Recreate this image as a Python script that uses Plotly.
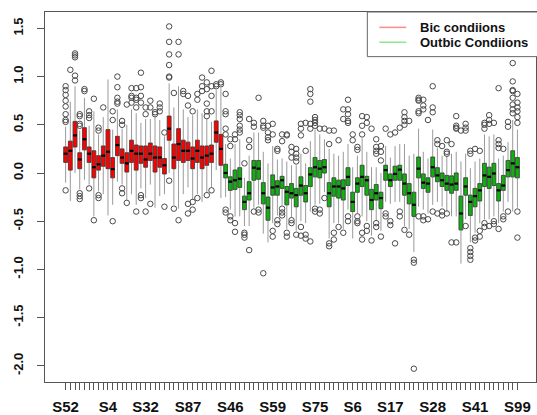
import plotly.graph_objects as go

# ---- per-sample box statistics (97 samples; the first 34 are "Bic") ----
n_bic = 34

q1 = [0.11, 0.03, 0.27, 0.045, 0.24, 0.11, -0.05, 0.03, 0.07, 0.045, -0.05, 0.18, 0.10, 0.01, 0.11, 0.03, 0.10,
      0.06, 0.13, 0.01, 0.06, -0.01, 0.34, 0.045, 0.13, 0.11, 0.13, 0.045, 0.11, 0.045, 0.08, 0.11, 0.32, 0.08,
      -0.05, -0.18, -0.17, -0.15, -0.38, -0.28, -0.075, -0.065, -0.32, -0.49, -0.23, -0.23, -0.16, -0.33, -0.26,
      -0.35, -0.23, -0.30, -0.14, -0.04, -0.05, 0.00, -0.35, -0.24, -0.26, -0.28, -0.13, -0.40, -0.20, -0.14, -0.23, -0.38,
      -0.28, -0.37, -0.075, -0.14, -0.075, -0.075, -0.23, -0.32, -0.45, -0.05, -0.16, -0.20, -0.04, -0.09, -0.14, -0.18,
      -0.21,
      -0.18, -0.59, -0.23, -0.44, -0.35, -0.29, -0.14, -0.16, -0.13, -0.29, -0.18, -0.04, -0.04, -0.05]

med = [0.20, 0.23, 0.39, 0.14, 0.35, 0.20, 0.06, 0.09, 0.18, 0.22, 0.04, 0.29, 0.16, 0.10, 0.23, 0.20, 0.20,
       0.14, 0.20, 0.16, 0.16, 0.08, 0.46, 0.16, 0.30, 0.23, 0.23, 0.15, 0.23, 0.16, 0.18, 0.20, 0.42, 0.25,
       0.00, -0.09, -0.075, -0.06, -0.30, -0.21, 0.055, 0.045, -0.21, -0.36, -0.15, -0.14, -0.075, -0.195, -0.21,
       -0.23, -0.13, -0.21, -0.015, 0.06, 0.045, 0.06, -0.21, -0.14, -0.14, -0.16, -0.04, -0.30, -0.11, -0.04, -0.075, -0.28,
       -0.21, -0.26, 0.03, -0.075, -0.01, 0.035, -0.11, -0.21, -0.33, 0.045, -0.10, -0.11, 0.06, -0.025, -0.075, -0.11,
       -0.12,
       -0.11, -0.42, -0.14, -0.30, -0.24, -0.18, -0.025, -0.04, -0.005, -0.18, -0.13, 0.03, 0.10, 0.06]

q3 = [0.27, 0.33, 0.535, 0.21, 0.47, 0.27, 0.23, 0.18, 0.28, 0.45, 0.16, 0.38, 0.25, 0.21, 0.34, 0.29, 0.28,
      0.28, 0.31, 0.28, 0.27, 0.15, 0.59, 0.30, 0.46, 0.34, 0.32, 0.27, 0.34, 0.28, 0.28, 0.29, 0.54, 0.40,
      0.09, -0.04, 0.03, 0.055, -0.24, -0.09, 0.13, 0.13, -0.10, -0.25, -0.02, -0.08, -0.035, -0.14, -0.11,
      -0.16, -0.04, -0.13, 0.055, 0.16, 0.13, 0.14, -0.10, -0.05, -0.075, -0.07, 0.055, -0.20, -0.05, 0.08, -0.035, -0.17,
      -0.12, -0.20, 0.08, -0.01, 0.07, 0.08, -0.01, -0.11, -0.20, 0.165, -0.01, -0.05, 0.165, 0.055, 0.00, -0.025,
      -0.03,
      0.00, -0.24, -0.05, -0.23, -0.16, -0.11, 0.10, 0.06, 0.10, -0.11, -0.025, 0.13, 0.23, 0.16]

whisk_lo = [-0.10, -0.29, 0.00, -0.17, -0.07, -0.12, -0.45, -0.19, -0.22, -0.44, -0.33, -0.09, -0.12, -0.28, -0.22, -0.33, -0.16,
            -0.26, -0.12, -0.36, -0.24, -0.22, 0.00, -0.33, -0.37, -0.22, -0.15, -0.28, -0.22, -0.30, -0.20, -0.15, 0.03, -0.26,
            -0.25, -0.38, -0.45, -0.45, -0.55, -0.55, -0.36, -0.33, -0.63, -0.72, -0.52, -0.44, -0.33, -0.58, -0.46,
            -0.60, -0.50, -0.52, -0.40, -0.33, -0.32, -0.20, -0.68, -0.52, -0.52, -0.58, -0.38, -0.68, -0.42, -0.45, -0.50, -0.65,
            -0.50, -0.60, -0.30, -0.32, -0.30, -0.30, -0.55, -0.58, -0.82, -0.35, -0.38, -0.42, -0.33, -0.30, -0.35, -0.40,
            -0.45,
            -0.45, -0.94, -0.48, -0.72, -0.62, -0.52, -0.48, -0.48, -0.45, -0.52, -0.40, -0.30, -0.40, -0.36]

whisk_hi = [0.48, 0.74, 0.90, 0.44, 0.78, 0.49, 0.64, 0.40, 0.58, 0.97, 0.45, 0.66, 0.46, 0.50, 0.66, 0.62, 0.52,
            0.56, 0.56, 0.58, 0.55, 0.38, 0.93, 0.68, 0.90, 0.66, 0.58, 0.60, 0.66, 0.62, 0.56, 0.53, 0.86, 0.88,
            0.30, 0.15, 0.30, 0.35, -0.05, 0.18, 0.42, 0.42, 0.22, 0.10, 0.28, 0.14, 0.15, 0.12, 0.08,
            0.08, 0.20, 0.10, 0.33, 0.45, 0.40, 0.35, 0.25, 0.20, 0.18, 0.22, 0.30, 0.06, 0.18, 0.36, 0.22, 0.06,
            0.06, 0.00, 0.28, 0.16, 0.28, 0.30, 0.30, 0.18, 0.20, 0.46, 0.22, 0.15, 0.45, 0.26, 0.18, 0.18,
            0.20,
            0.22, 0.12, 0.20, 0.05, 0.12, 0.15, 0.40, 0.38, 0.40, 0.15, 0.18, 0.32, 0.55, 0.45]

outliers = [
    [0.90, 0.86, 0.81, 0.75, 0.69, 0.61, 0.55, 0.53, -0.18], [1.07], [1.24, 1.22, 1.20, 1.01, 0.96],
    [0.61, 0.59, 0.51, 0.49, -0.21, -0.24, -0.27], [0.87, 0.85], [0.64, 0.60, 0.57, -0.16], [0.77, -0.49],
    [0.47, 0.44, -0.23, -0.26], [0.68], [], [0.64, 0.55, -0.50], [1.00, 0.89, 0.78, 0.74, 0.72],
    [0.54, 0.50, -0.16, -0.21], [0.71, -0.31], [0.88, 0.80, 0.78, 0.73], [0.88, 0.78, 0.76, 0.68, -0.40],
    [1.04, 0.89, 0.80, 0.73, -0.23, -0.26], [0.68, 0.61, -0.40], [0.75, 0.68, -0.32], [0.63, 0.61],
    [0.72, 0.68, 0.64], [0.42, -0.35], [1.52, 1.36, 1.23, 1.12, 1.00, 0.99, -0.08], [0.83, -0.37],
    [1.36, 1.23, -0.49], [0.85, 0.82], [0.80, 0.70, -0.32, -0.42], [0.64, -0.30, -0.38], [0.82, 0.76, -0.26],
    [0.99, 0.90, 0.85], [0.94, 0.87, 0.72, 0.64, 0.59, -0.23], [1.06, 0.90, 0.80, 0.64, -0.18], [0.92, 0.90],
    [0.94, 0.92],
    [0.82, 0.64, 0.61, 0.46, 0.40, -0.38, -0.41], [0.35, 0.28, -0.45, -0.49], [0.40, 0.35, -0.52, -0.61],
    [0.63, 0.60, 0.56, 0.49, 0.45, 0.42], [0.10, -0.62, -0.64, -0.67], [0.56, 0.34, 0.27, -0.80],
    [0.48, 0.52, -0.40], [0.78, -0.38, -0.41], [0.54, 0.49, 0.47, -1.04], [0.49, 0.42, 0.37, 0.34],
    [0.51, 0.40, -0.60, -0.66], [0.25, 0.23, -0.49, -0.53], [0.40, 0.33, -0.37, -0.41, -0.44],
    [0.40, 0.39, -0.62, -0.66], [0.27, 0.22, 0.16, -0.49, -0.52], [0.25, 0.20, 0.16, 0.12, -0.64],
    [0.51, 0.46, 0.39, -0.56, -0.65], [0.52, 0.23, -0.64, -0.68], [0.87, 0.82, 0.74, 0.51, 0.46, -0.71],
    [0.58, 0.55, 0.52, 0.49, -0.37, -0.40], [0.46, -0.38, -0.42], [0.46, -0.26], [0.44, 0.30, -0.76, -0.73],
    [0.44, -0.62, -0.69], [0.34, -0.56], [0.66, 0.56, -0.62], [0.76, 0.66, 0.61, 0.54, 0.52, -0.45, -0.50],
    [0.40, 0.34], [0.27, 0.24, -0.45, -0.50, -0.52], [0.59, 0.49, 0.40, -0.62, -0.69], [0.58, 0.52, -0.55, -0.60],
    [0.46, -0.70], [0.35, 0.27, 0.23, 0.20, -0.52, -0.56], [0.28, 0.22, 0.13, -0.66], [0.46, -0.42, -0.45],
    [0.40, -0.50, -0.54], [0.42, -0.73], [0.47, -0.40, -0.45], [0.63, 0.58, 0.54, 0.50, -0.59], [0.54, -0.64],
    [-0.90, -0.93, -2.03], [0.78, 0.76, 0.75, 0.64, 0.62, -0.45], [0.76, 0.70, 0.66, -0.45, -0.49], [0.55, -0.48],
    [0.90, 0.68, 0.63, -0.40], [0.34, 0.30, -0.42], [0.28, -0.40, -0.44], [0.34, 0.22, 0.20, -0.42],
    [0.30, -0.72], [0.59, 0.49, 0.47, 0.46, -0.72], [0.44], [0.51, 0.47, 0.44, -0.55],
    [0.23, 0.20, -0.78, -0.82, -0.86, -0.90], [0.25, -0.67, -0.70], [0.23, -0.60, -0.66],
    [0.52, 0.50, 0.46, -0.52, -0.56], [0.60, 0.55, 0.51, -0.55], [0.52, -0.50, -0.53],
    [0.88, 0.34, 0.30, 0.26, -0.58], [0.25, -0.45, -0.48], [0.53, 0.48, -0.40],
    [1.14, 0.95, 0.86, 0.85, 0.78, 0.71, 0.66, 0.62], [0.82, 0.73, 0.68, 0.64, 0.58, 0.52, -0.40, -0.67],
]

# sample names shown on the x axis (the rest are skipped for space)
label_pos = [1, 10, 18, 27, 36, 45, 54, 62, 70, 79, 88, 97]
label_txt = ["S52", "S4", "S32", "S87", "S46", "S59", "S75", "S6", "S17", "S28", "S41", "S99"]

legend_names = ["Bic condiions", "Outbic Condiions"]

# ---- drawing ----
n = len(med)
pos = list(range(1, n + 1))
groups = [(0, n_bic, "#ff0000"), (n_bic, n, "#10b010")]
BOXW = 0.8

fig = go.Figure()

for a, b, col in groups:
    sl = slice(a, b)
    # dashed-looking grey whiskers
    fig.add_trace(go.Box(
        x=pos[sl], q1=q1[sl], median=med[sl], q3=q3[sl],
        lowerfence=whisk_lo[sl], upperfence=whisk_hi[sl],
        width=BOXW, whiskerwidth=0, fillcolor="rgba(0,0,0,0)",
        line=dict(color="#9a9a9a", width=1), hoverinfo="skip", boxpoints=False,
    ))
    # filled boxes
    fig.add_trace(go.Box(
        x=pos[sl], q1=q1[sl], median=med[sl], q3=q3[sl],
        lowerfence=q1[sl], upperfence=q3[sl],
        width=BOXW, whiskerwidth=0, fillcolor=col,
        line=dict(color="#3a3a3a", width=0.7), hoverinfo="skip", boxpoints=False,
    ))

# thick median bars
mx, my = [], []
for i, m in zip(pos, med):
    mx += [i - BOXW / 2, i + BOXW / 2, None]
    my += [m, m, None]
fig.add_trace(go.Scatter(x=mx, y=my, mode="lines", line=dict(color="black", width=2.2),
                         hoverinfo="skip"))

# outlying points
ox, oy = [], []
for i, vals in zip(pos, outliers):
    ox += [i] * len(vals)
    oy += vals
fig.add_trace(go.Scatter(x=ox, y=oy, mode="markers",
                         marker=dict(symbol="circle-open", size=5.5, color="#4a4a4a",
                                     line=dict(width=1, color="#4a4a4a")),
                         hoverinfo="skip"))

tick_text = [label_txt[label_pos.index(i)] if i in label_pos else "" for i in pos]

fig.update_xaxes(
    range=[-3.38, 100.95], tickmode="array", tickvals=pos, ticktext=tick_text,
    ticks="outside", ticklen=7, tickcolor="#555", tickwidth=1,
    showline=True, linecolor="#555", linewidth=1, mirror=True,
    showgrid=False, zeroline=False, ticklabelstandoff=4,
    tickfont=dict(family="Liberation Sans, Arial", size=15, color="#111", weight="bold"),
)
fig.update_yaxes(
    range=[-2.168, 1.670], tickmode="array",
    tickvals=[-2.0, -1.5, -1.0, -0.5, 0.0, 0.5, 1.0, 1.5],
    ticktext=["-2.0", "-1.5", "-1.0", "-0.5", "0.0", "0.5", "1.0", "1.5"],
    tickangle=-90, ticks="outside", ticklen=7, tickcolor="#555", tickwidth=1,
    showline=True, linecolor="#555", linewidth=1, mirror=True,
    showgrid=False, zeroline=False, ticklabelstandoff=9,
    tickfont=dict(family="Liberation Sans, Arial", size=13, color="#111", weight="bold"),
)

# legend box in the top-right corner
W0, H0, L, T = 492.0, 373.0, 45.0, 12.0
def px(xp):
    return (xp - L) / W0
def py(yp):
    return (T + H0 - yp) / H0

shapes = [
    dict(type="rect", xref="paper", yref="paper", x0=px(368), x1=px(560), y0=py(57), y1=py(12),
         line=dict(color="#666", width=1), fillcolor="white", layer="above"),
    dict(type="line", xref="paper", yref="paper", x0=px(380), x1=px(407), y0=py(27.5), y1=py(27.5),
         line=dict(color="#ff8a8a", width=1.5), layer="above"),
    dict(type="line", xref="paper", yref="paper", x0=px(380), x1=px(407), y0=py(42.5), y1=py(42.5),
         line=dict(color="#8ee68e", width=1.5), layer="above"),
]
annotations = [
    dict(xref="paper", yref="paper", x=px(419), y=py(27.5), text=legend_names[0], showarrow=False,
         xanchor="left", yanchor="middle",
         font=dict(family="Liberation Sans, Arial", size=13, color="#111", weight="bold")),
    dict(xref="paper", yref="paper", x=px(419), y=py(42.5), text=legend_names[1], showarrow=False,
         xanchor="left", yanchor="middle",
         font=dict(family="Liberation Sans, Arial", size=13, color="#111", weight="bold")),
]

fig.update_layout(
    width=537, height=415, margin=dict(l=45, r=0, t=12, b=30),
    paper_bgcolor="white", plot_bgcolor="white", showlegend=False,
    boxmode="overlay", shapes=shapes, annotations=annotations,
)

fig.write_html("out.html")
